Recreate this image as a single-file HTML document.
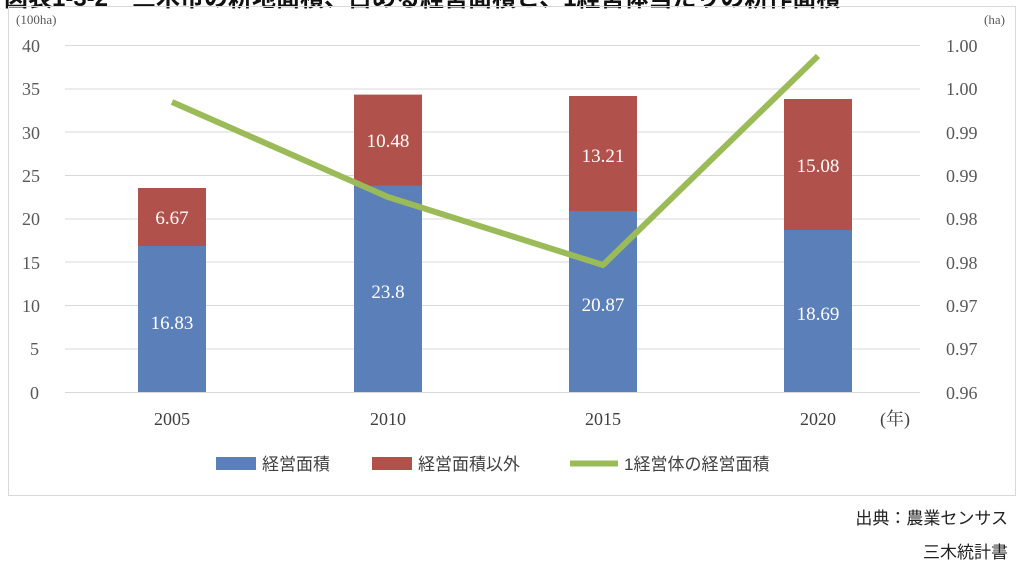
<!DOCTYPE html>
<html><head><meta charset="utf-8"><style>
body{margin:0;width:1024px;height:567px;background:#fff;overflow:hidden;position:relative;font-family:"Liberation Serif","Noto Serif CJK SC",serif}
</style></head><body>
<div style="position:absolute;left:4px;top:-22px;font:bold 24px 'Liberation Sans','Noto Sans CJK JP',sans-serif;color:#111;white-space:nowrap">図表1-3-2　三木市の耕地面積、占める経営面積と、1経営体当たりの耕作面積</div>
<svg width="1024" height="567" style="position:absolute;left:0;top:0" font-family="Liberation Serif, Noto Serif CJK JP, serif">
<rect x="8.5" y="6.5" width="1007" height="489" fill="none" stroke="#d9d9d9"/>
<g stroke="#d9d9d9" stroke-width="1">
<line x1="65" x2="920" y1="45.5" y2="45.5"/><line x1="65" x2="920" y1="89" y2="89"/><line x1="65" x2="920" y1="132" y2="132"/><line x1="65" x2="920" y1="175.5" y2="175.5"/><line x1="65" x2="920" y1="219" y2="219"/><line x1="65" x2="920" y1="262" y2="262"/><line x1="65" x2="920" y1="305.5" y2="305.5"/><line x1="65" x2="920" y1="349" y2="349"/><line x1="65" x2="920" y1="392.5" y2="392.5"/>
</g>
<g font-size="18" fill="#595959">
<text x="16" y="24" font-size="13">(100ha)</text><text x="984" y="24" font-size="13">(ha)</text>
<g text-anchor="start"><text x="22" y="52">40</text><text x="22" y="95">35</text><text x="22" y="139">30</text><text x="22" y="182">25</text><text x="22" y="225">20</text><text x="22" y="269">15</text><text x="22" y="312">10</text><text x="30" y="355">5</text><text x="30" y="399">0</text></g>
<g><text x="946" y="52">1.00</text><text x="946" y="95">1.00</text><text x="946" y="139">0.99</text><text x="946" y="182">0.99</text><text x="946" y="225">0.98</text><text x="946" y="269">0.98</text><text x="946" y="312">0.97</text><text x="946" y="355">0.97</text><text x="946" y="399">0.96</text></g>
<g text-anchor="middle" fill="#404040"><text x="172" y="425">2005</text><text x="388" y="425">2010</text><text x="603" y="425">2015</text><text x="818" y="425">2020</text></g>
<text x="880" y="425" fill="#404040">(年)</text>
</g>
<g fill="#5b7fb8">
<rect x="138" y="246" width="68" height="146"/><rect x="354" y="185.5" width="68" height="206.5"/><rect x="569" y="211" width="68" height="181"/><rect x="784" y="230" width="68" height="162"/>
</g>
<g fill="#b0524b">
<rect x="138" y="188" width="68" height="58"/><rect x="354" y="94.6" width="68" height="91"/><rect x="569" y="96" width="68" height="115"/><rect x="784" y="99" width="68" height="131"/>
</g>
<g fill="#fff" font-size="19" text-anchor="middle">
<text x="172" y="329">16.83</text><text x="172" y="224">6.67</text>
<text x="388" y="298">23.8</text><text x="388" y="147">10.48</text>
<text x="603" y="311">20.87</text><text x="603" y="162">13.21</text>
<text x="818" y="320">18.69</text><text x="818" y="172">15.08</text>
</g>
<polyline points="172,102 388,197 603,265 818,56" fill="none" stroke="#9bbb59" stroke-width="6" stroke-linejoin="round"/>
<g font-size="17" fill="#404040" font-family="Liberation Sans, Noto Sans CJK JP, sans-serif">
<rect x="216" y="457" width="40" height="13" fill="#5b7fb8"/><text x="262" y="470">経営面積</text>
<rect x="372" y="457" width="40" height="13" fill="#b0524b"/><text x="418" y="470">経営面積以外</text>
<line x1="570" x2="618" y1="463.5" y2="463.5" stroke="#9bbb59" stroke-width="6"/><text x="624" y="470">1経営体の経営面積</text>
<text x="1008" y="524" text-anchor="end" fill="#222">出典：農業センサス</text>
<text x="1008" y="558" text-anchor="end" fill="#222">三木統計書</text>
</g>
</svg>
</body></html>
